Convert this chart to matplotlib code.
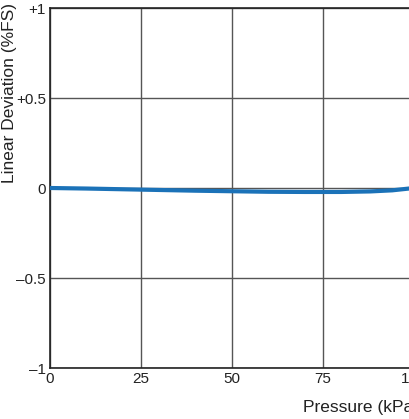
import numpy as np
import matplotlib
matplotlib.use('Agg')
import matplotlib.pyplot as plt

plt.rcParams['font.family'] = ['Liberation Sans', 'DejaVu Sans']

pressure = [0, 10, 20, 30, 40, 50, 60, 70, 80, 88, 94, 100]
deviation = [0.0, -0.003, -0.007, -0.011, -0.015, -0.018, -0.021,
             -0.022, -0.022, -0.019, -0.013, 0.0]
xticks = [0, 25, 50, 75, 100]
yticks = [-1, -0.5, 0, 0.5, 1]
ytick_labels = ['\u20131', '\u20130.5', '0', '+0.5', '+1']

fig = plt.figure(figsize=(4.09, 4.19), dpi=100)
# the axes run past the right edge of the picture, as in the crop
ax = fig.add_axes([50 / 409, 51 / 419, 364 / 409, 360 / 419])

ax.plot(pressure, deviation, color='#1b72b8', lw=3, solid_capstyle='butt',
        zorder=3)

ax.set_xlim(0, 100)
ax.set_ylim(-1, 1)
ax.set_xticks(xticks)
ax.set_xticklabels([str(t) for t in xticks])
ax.set_yticks(yticks)
ax.set_yticklabels(ytick_labels)
ax.tick_params(length=0, labelsize=11, pad=3, colors='#222222')
ax.grid(True, color='#555555', lw=1)
for s in ax.spines.values():
    s.set_color('#222222')
    s.set_linewidth(1.2)

fig.text(10 / 409, 1 - 93 / 419, 'Linear Deviation (%FS)', rotation=90,
         ha='center', va='center', fontsize=12.5, color='#222222')
fig.text(303 / 409, 1 - 407 / 419, 'Pressure (kPa)', ha='left',
         va='center', fontsize=12.5, color='#222222')

fig.savefig('out.png', dpi=100)
